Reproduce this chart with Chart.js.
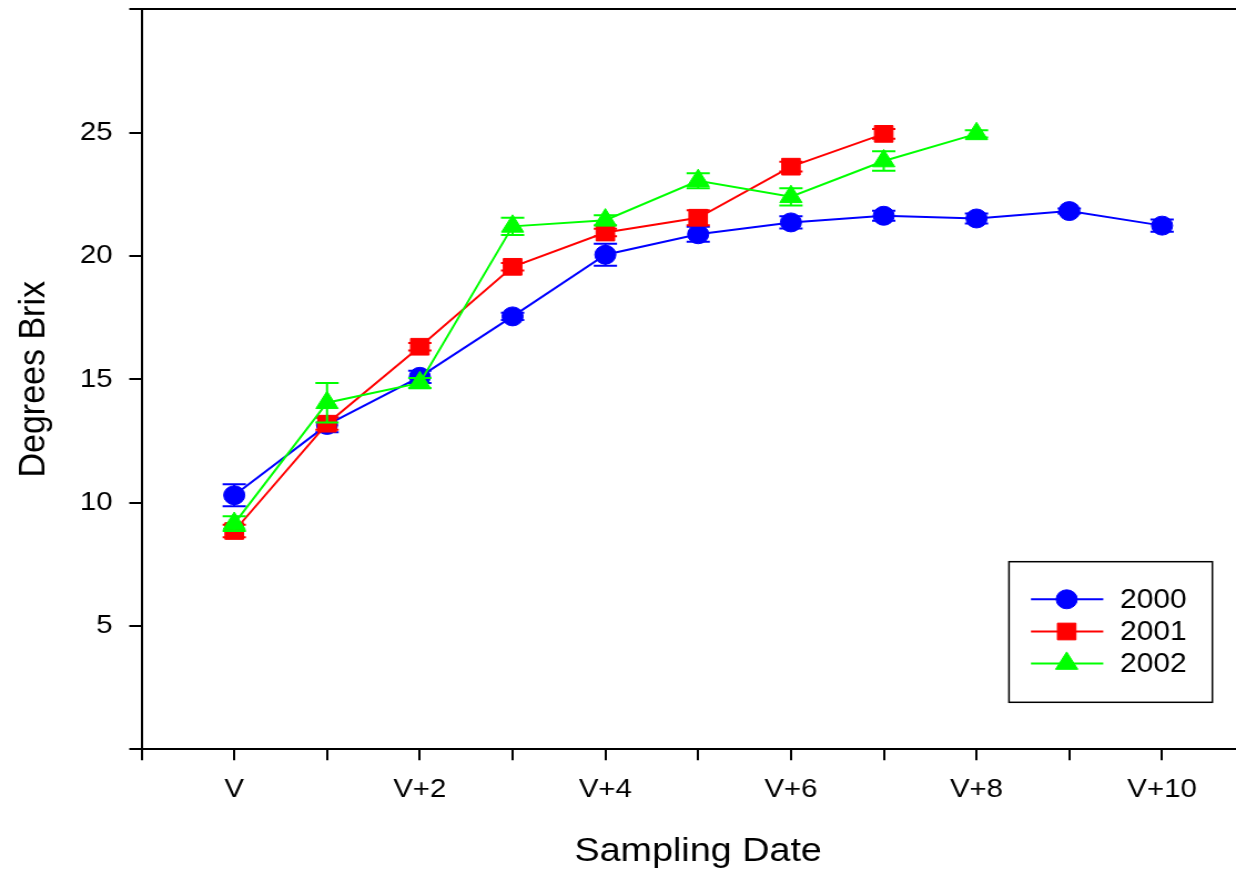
<!DOCTYPE html>
<html>
<head>
<meta charset="utf-8">
<script src="https://cdn.jsdelivr.net/npm/chart.js@4.4.1/dist/chart.umd.min.js"></script>
<style>
  html, body { margin: 0; padding: 0; background: #ffffff; overflow: hidden; width: 1236px; height: 872px; }
  #wrap { width: 1131px; height: 872px; transform: scaleX(1.1095); transform-origin: 0 0; }
  canvas { display: block; }
</style>
</head>
<body>
<div id="wrap"><canvas id="c" width="1131" height="872"></canvas></div>
<script>
// ---- data ----
const sampleIndex = [0, 1, 2, 3, 4, 5, 6, 7, 8, 9, 10];
const xTickLabels = ['', 'V', '', 'V+2', '', 'V+4', '', 'V+6', '', 'V+8', '', 'V+10', ''];
const seriesNames = ['2000', '2001', '2002'];
const brix2000 = [10.30, 13.15, 15.10, 17.55, 20.05, 20.88, 21.36, 21.63, 21.52, 21.82, 21.23];
const err2000  = [0.45, 0.30, 0.25, 0.15, 0.45, 0.30, 0.25, 0.20, 0.20, 0.10, 0.25];
const brix2001 = [8.85, 13.20, 16.32, 19.56, 20.95, 21.55, 23.62, 24.95];
const err2001  = [0.25, 0.25, 0.15, 0.15, 0.15, 0.30, 0.20, 0.20];
const brix2002 = [9.15, 14.05, 14.85, 21.20, 21.45, 23.05, 22.40, 23.85, 24.95];
const err2002  = [0.30, 0.80, 0.20, 0.35, 0.20, 0.30, 0.35, 0.40, 0.15];

const FONT = "'Liberation Sans', Arial, Helvetica, sans-serif";
const colors = ['#0000ff', '#ff0000', '#00ff00'];
const styles = ['circle', 'rect', 'triangle'];
const radii = [9.5, 11.8, 11.6];

function pts(vals) { return vals.map((v, i) => ({ x: sampleIndex[i], y: v })); }
const values = [brix2000, brix2001, brix2002];
const errors = [err2000, err2001, err2002];

const datasets = values.map((vals, k) => ({
  label: seriesNames[k],
  data: pts(vals),
  errors: errors[k],
  borderColor: colors[k],
  backgroundColor: colors[k],
  pointBackgroundColor: colors[k],
  pointBorderColor: colors[k],
  pointBorderWidth: 1,
  pointStyle: styles[k],
  pointRadius: radii[k],
  borderWidth: 2,
  tension: 0,
  order: 3 - k
}));

function zeroPad(s) { s.paddingLeft = 0; s.paddingRight = 0; s.paddingTop = 0; s.paddingBottom = 0; }

const errorBarPlugin = {
  id: 'errorBars',
  afterDatasetDraw(chart, args) {
    const ds = chart.data.datasets[args.index];
    const xs = chart.scales.x, ys = chart.scales.y;
    const ctx = chart.ctx;
    ctx.save();
    ctx.strokeStyle = ds.borderColor;
    ctx.lineWidth = 2;
    const cap = 10.5;
    ds.data.forEach((p, i) => {
      const e = ds.errors[i];
      const px = xs.getPixelForValue(p.x);
      const yt = ys.getPixelForValue(p.y + e);
      const yb = ys.getPixelForValue(p.y - e);
      ctx.beginPath();
      ctx.moveTo(px, yt); ctx.lineTo(px, yb);
      ctx.moveTo(px - cap, yt); ctx.lineTo(px + cap, yt);
      ctx.moveTo(px - cap, yb); ctx.lineTo(px + cap, yb);
      ctx.stroke();
    });
    ctx.restore();
  }
};

function drawMarker(ctx, style, r, x, y) {
  if (Chart.helpers && Chart.helpers.drawPoint) {
    Chart.helpers.drawPoint(ctx, { pointStyle: style, radius: r, borderWidth: 1, rotation: 0 }, x, y);
    return;
  }
  ctx.beginPath();
  if (style === 'circle') ctx.arc(x, y, r, 0, Math.PI * 2);
  else if (style === 'rect') { const s = r * Math.SQRT1_2; ctx.rect(x - s, y - s, 2 * s, 2 * s); }
  else { ctx.moveTo(x, y - r); ctx.lineTo(x + 0.866 * r, y + 0.5 * r); ctx.lineTo(x - 0.866 * r, y + 0.5 * r); ctx.closePath(); }
  ctx.fill(); ctx.stroke();
}

const legendPlugin = {
  id: 'boxLegend',
  afterDraw(chart) {
    const ctx = chart.ctx;
    const box = { x: 909.4, y: 561.7, w: 183.3, h: 140.6 };
    ctx.save();
    ctx.strokeStyle = '#000';
    ctx.lineWidth = 1.5;
    ctx.strokeRect(box.x, box.y, box.w, box.h);
    const rowY = [599.3, 631.5, 663.5];
    seriesNames.forEach((name, k) => {
      const y = rowY[k];
      ctx.strokeStyle = colors[k];
      ctx.fillStyle = colors[k];
      ctx.lineWidth = 2;
      ctx.beginPath();
      ctx.moveTo(929.2, y); ctx.lineTo(994.4, y);
      ctx.stroke();
      ctx.lineWidth = 1;
      drawMarker(ctx, styles[k], radii[k], 961.4, y);
      ctx.fillStyle = '#000';
      ctx.font = '27px ' + FONT;
      ctx.textAlign = 'left';
      ctx.textBaseline = 'middle';
      ctx.fillText(name, 1009.5, y + 1);
    });
    ctx.restore();
  }
};

new Chart(document.getElementById('c'), {
  type: 'line',
  data: { datasets },
  options: {
    responsive: false,
    maintainAspectRatio: false,
    animation: false,
    layout: { autoPadding: false, padding: { top: 9.3, left: 0, right: 0, bottom: 0 } },
    plugins: { legend: { display: false }, tooltip: { enabled: false } },
    scales: {
      x: {
        type: 'linear',
        position: 'bottom',
        min: -1,
        max: 11,
        afterFit(s) { s.height = 122.7; zeroPad(s); },
        ticks: {
          stepSize: 1,
          autoSkip: false,
          maxRotation: 0,
          color: '#000',
          padding: 13,
          font: { family: FONT, size: 26.5 },
          callback: (v) => { const i = Math.round(v) + 1; return xTickLabels[i] !== undefined ? xTickLabels[i] : ''; }
        },
        grid: { display: true, drawOnChartArea: false, drawTicks: true, tickLength: 11, color: '#000', lineWidth: 2 },
        border: { display: true, color: '#000', width: 2 },
        title: { display: true, text: 'Sampling Date', color: '#000', font: { family: FONT, size: 34 }, padding: { top: 0, bottom: 0 } }
      },
      x2: {
        type: 'linear',
        position: 'top',
        min: -1,
        max: 11,
        afterFit(s) { s.height = 0; zeroPad(s); },
        ticks: { display: false },
        grid: { display: true, drawOnChartArea: false, drawTicks: false },
        border: { display: true, color: '#000', width: 2 }
      },
      y: {
        type: 'linear',
        min: 0,
        max: 30,
        afterFit(s) { s.width = 127.5; zeroPad(s); },
        ticks: {
          stepSize: 5,
          color: '#000',
          padding: 15,
          font: { family: FONT, size: 26.5 },
          callback: (v) => (v === 0 || v === 30) ? '' : String(v)
        },
        grid: { display: true, drawOnChartArea: false, drawTicks: true, tickLength: 11, color: '#000', lineWidth: 2 },
        border: { display: true, color: '#000', width: 2 },
        title: { display: true, text: 'Degrees Brix', color: '#000', font: { family: FONT, size: 34 }, padding: { top: 10, bottom: 0 } }
      }
    }
  },
  plugins: [errorBarPlugin, legendPlugin]
});
</script>
</body>
</html>
